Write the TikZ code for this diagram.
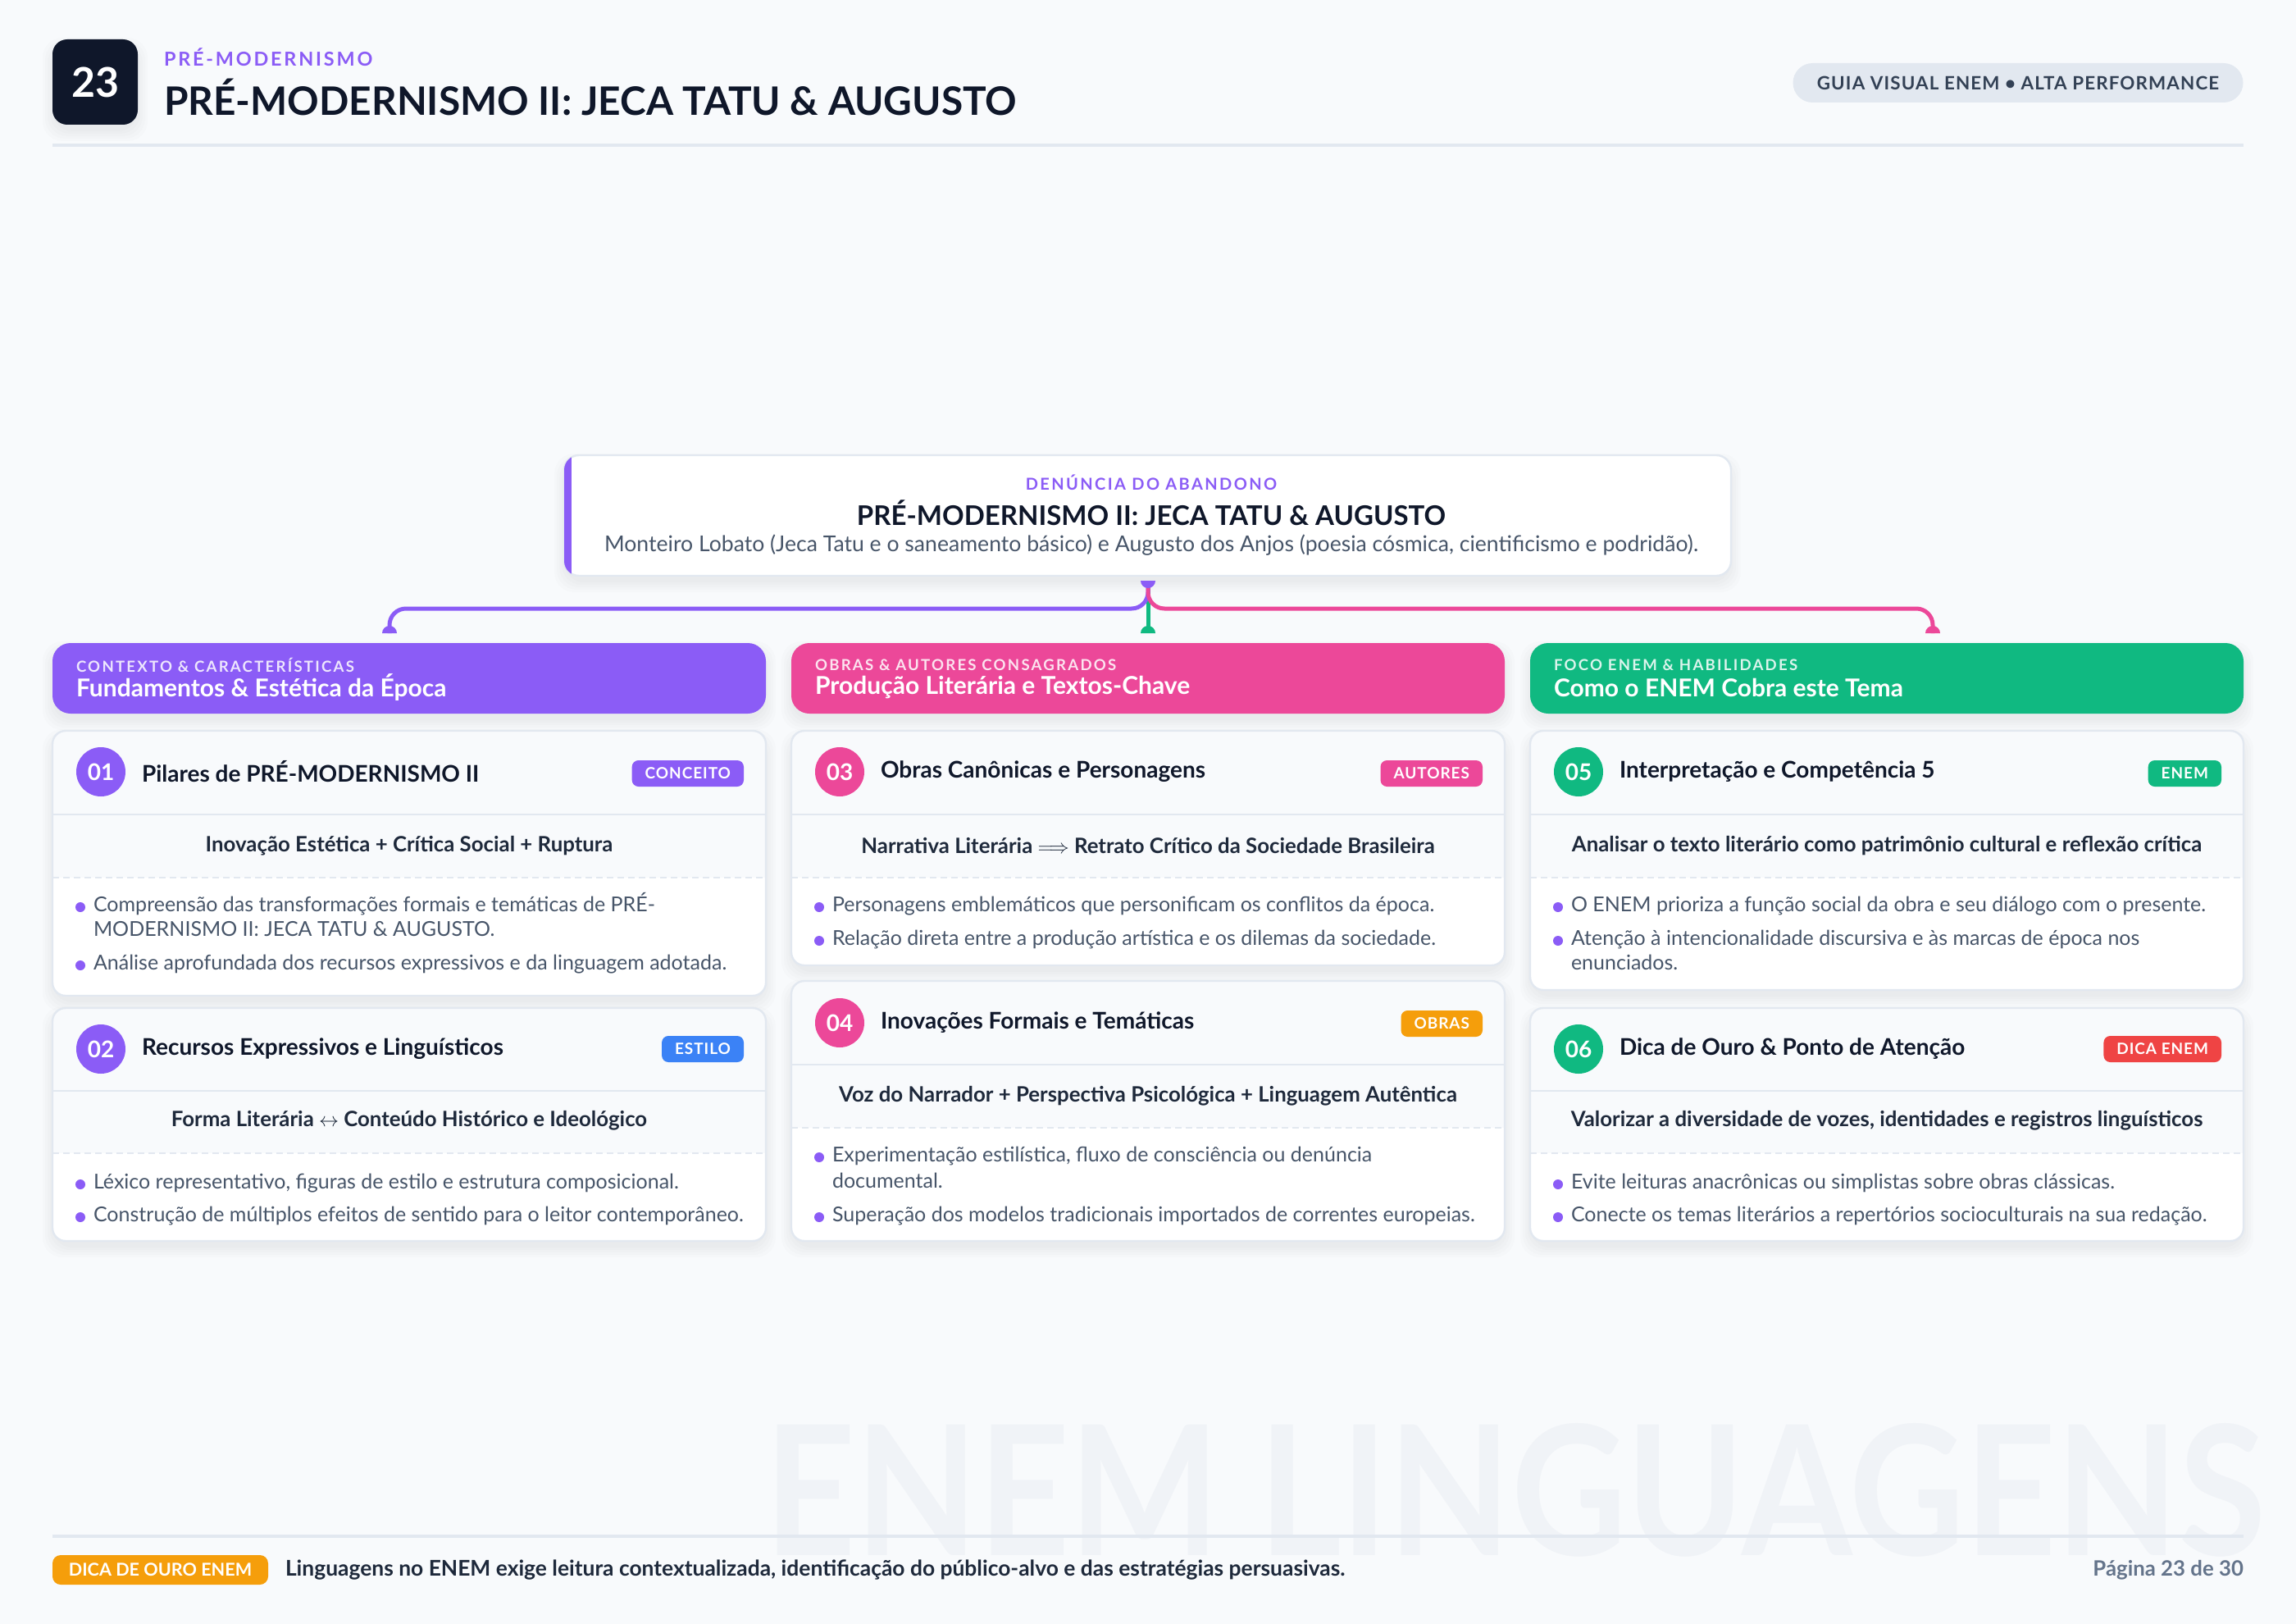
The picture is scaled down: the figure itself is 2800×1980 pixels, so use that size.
\documentclass[tikz,border=0pt]{standalone}
\usepackage{fontspec}
\setmainfont{Lato}
\newfontfamily\trk[LetterSpace=12]{Lato}
\newfontfamily\trks[LetterSpace=5]{Lato}
\usetikzlibrary{fit,calc}
\definecolor{bg}{HTML}{F8FAFC}
\definecolor{s900}{HTML}{0F172A}
\definecolor{s800}{HTML}{1E293B}
\definecolor{s700}{HTML}{334155}
\definecolor{s600}{HTML}{475569}
\definecolor{s500}{HTML}{64748B}
\definecolor{bord}{HTML}{E2E8F0}
\definecolor{wmc}{HTML}{F0F3F7}
\definecolor{cpur}{HTML}{8B5CF6}
\definecolor{cpink}{HTML}{EC4899}
\definecolor{cgreen}{HTML}{10B981}
\definecolor{cblue}{HTML}{3B82F6}
\definecolor{corange}{HTML}{F59E0B}
\definecolor{cred}{HTML}{EF4444}
\newcommand\titf{\fontsize{14}{17}\selectfont\bfseries\color{s900}}
\newcommand\formf{\fontsize{12.9}{15}\selectfont\bfseries\color{s800}}
\newcommand\bulf{\fontsize{12.5}{15}\selectfont\color{s600}}
\newcommand\numf{\fontsize{14}{16}\selectfont\bfseries\color{white}}
\newcommand\badf{\trks\fontsize{9.5}{11}\selectfont\bfseries\color{white}}
\newcommand\shad[4]{\foreach \s in {0,3,6,9,12}{\fill[black,opacity=0.012,rounded corners=12pt] (#1-\s,#2-\s+10) rectangle (#3+\s,#4+\s+8);}}
% #1 name #2 xleft #3 ytop #4 ysolid #5 ydash #6 ybottom
\newcommand\mycard[6]{%
  \shad{#2}{#3}{#2+870}{#6}
  \node[fit={(#2,#3) (#2+870,#6)}] (#1) {};
  \fill[bg, rounded corners=8pt] (#2,#3) rectangle (#2+870,#6);
  \begin{scope}
    \clip[rounded corners=8pt] (#2,#3) rectangle (#2+870,#6);
    \fill[white] (#2,#5) rectangle (#2+870,#6);
  \end{scope}
  \draw[bord, line width=1.2pt, rounded corners=8pt] (#2,#3) rectangle (#2+870,#6);
  \draw[bord, line width=1.2pt] (#2,#4) -- (#2+870,#4);
  \draw[bord, line width=1.2pt, dash pattern=on 4pt off 2.5pt] (#2,#5) -- (#2+870,#5);
}
% bullet item: #1 name, #2 text x, #3 line centre y, #4 text
\newcommand\bitem[4]{%
  \node[bdot] (#1d) at (#2-16,#3+4) {};
  \node[bul] (#1) at (#2,#3) {#4};
}
\tikzset{
  numc/.style={circle, fill=#1, minimum size=30pt},
  badge/.style={fill=#1, rounded corners=4pt, minimum height=16pt, inner xsep=8pt, anchor=east},
  ctitle/.style={anchor=west, font=\titf},
  bul/.style={anchor=west, font=\bulf, text height=9pt, text depth=0pt},
  bdot/.style={circle, fill=cpur, minimum size=6pt},
  conn/.style={line width=2.5pt, rounded corners=10pt},
  colhead/.style={fill=#1, rounded corners=11pt},
}
\begin{document}
\begin{tikzpicture}[x=0.5pt,y=-0.5pt, every node/.style={inner sep=0pt, outer sep=0pt}]
\useasboundingbox (0,0) rectangle (2800,1980);
\fill[bg] (0,0) rectangle (2800,1980);

% watermark
\node[anchor=base west, text=wmc, text depth=0pt] (wm) at (932,1896) {\scalebox{0.898}[1.02]{\fontsize{108}{110}\selectfont\bfseries ENEM LINGUAGENS}};

% header
\shad{64}{48}{168}{152}
\node[fit={(64,48) (168,152)}, fill=s900, rounded corners=9pt] (numbox) {};
\node[text=white, font=\fontsize{25}{28}\selectfont\bfseries] (numtxt) at (numbox.center) {23};
\node[anchor=west, text=cpur, font=\trk\fontsize{11.7}{13}\selectfont\bfseries] (kicker) at (200,70) {PRÉ-MODERNISMO};
\node[anchor=west, text=s900, font=\fontsize{23.9}{28}\selectfont\bfseries] (htitle) at (200,118) {PRÉ-MODERNISMO II: JECA TATU \& AUGUSTO};
\node[fill=bord, rounded corners=12pt, minimum width=274.5pt, minimum height=24pt] (pill) at (2461,101) {};
\node[text=s700, font=\trks\fontsize{11.2}{13}\selectfont\bfseries] (pilltxt) at (pill.center) {GUIA VISUAL ENEM • ALTA PERFORMANCE};
\draw[bord, line width=2pt] (64,177) -- (2736,177);

% top box
\shad{688}{555}{2111}{702}
\node[fit={(688,555) (2111,702)}, fill=white, draw=bord, line width=1.2pt, rounded corners=9pt] (top) {};
\begin{scope}
  \clip[rounded corners=9pt] (688,555) rectangle (2111,702);
  \fill[cpur] (688,555) rectangle (697,702);
\end{scope}
\node[text=cpur, font=\trk\fontsize{10}{12}\selectfont\bfseries] (toplbl) at (1404,588) {DENÚNCIA DO ABANDONO};
\node[text=s900, font=\fontsize{16.5}{20}\selectfont\bfseries] (toptitle) at (1404,625) {PRÉ-MODERNISMO II: JECA TATU \& AUGUSTO};
\node[text=s600, font=\fontsize{13.3}{15}\selectfont] (topsub) at (1404,665) {Monteiro Lobato (Jeca Tatu e o saneamento básico) e Augusto dos Anjos (poesia cósmica, cientificismo e podridão).};

% column headers
\shad{64}{784}{934}{870}
\shad{965}{784}{1835}{870}
\shad{1866}{784}{2736}{870}
\node[fit={(64,784) (934,870)}, colhead=cpur] (h1) {};
\node[fit={(965,784) (1835,870)}, colhead=cpink] (h2) {};
\node[fit={(1866,784) (2736,870)}, colhead=cgreen] (h3) {};
\foreach \n/\x/\a/\b in {h1/93/CONTEXTO \& CARACTERÍSTICAS/Fundamentos \& Estética da Época,
                        h2/994/OBRAS \& AUTORES CONSAGRADOS/Produção Literária e Textos-Chave,
                        h3/1895/FOCO ENEM \& HABILIDADES/Como o ENEM Cobra este Tema}{
  \node[anchor=west, text=white, text opacity=0.85, font=\trk\fontsize{9.3}{11}\selectfont\bfseries] (\n l) at (\x,811) {\a};
  \node[anchor=west, text=white, font=\fontsize{15}{17}\selectfont\bfseries] (\n t) at (\x,838) {\b};
}

% connectors
\coordinate (jt) at (1400,708);
\coordinate (e1) at (475,772);
\coordinate (e2) at (1400,772);
\coordinate (e3) at (2357,772);
\draw[cgreen, conn] (jt) -- (e2);
\draw[cpur, conn] (jt) |- ([yshift=15pt]e1) -- (e1);
\draw[cpink, conn] (jt) |- ([yshift=15pt]e3) -- (e3);
\fill[cpur] ([xshift=-4.5pt]jt) arc[start angle=180, end angle=360, radius=4.5pt] -- cycle;
\fill[cpur] ([xshift=-4.5pt]e1) arc[start angle=180, end angle=0, radius=4.5pt] -- cycle;
\fill[cgreen] ([xshift=-4.5pt]e2) arc[start angle=180, end angle=0, radius=4.5pt] -- cycle;
\fill[cpink] ([xshift=-4.5pt]e3) arc[start angle=180, end angle=0, radius=4.5pt] -- cycle;

% ---------- column 1 ----------
\mycard{c1}{64}{891}{993}{1070}{1214}
\node[numc=cpur] (n1) at (123,941) {\numf 01};
\node[ctitle] (t1) at (173,941) {Pilares de PRÉ-MODERNISMO II};
\node[badge=cpur] (g1) at (907,943) {\badf CONCEITO};
\node[font=\formf] (f1) at (499,1031) {Inovação Estética + Crítica Social + Ruptura};
\bitem{b1a}{114}{1102}{Compreensão das transformações formais e temáticas de PRÉ-}
\node[bul] (b1a2) at (114,1132) {MODERNISMO II: JECA TATU \& AUGUSTO.};
\bitem{b1b}{114}{1173}{Análise aprofundada dos recursos expressivos e da linguagem adotada.}

\mycard{c2}{64}{1229}{1330}{1406}{1513}
\node[numc=cpur] (n2) at (123,1279) {\numf 02};
\node[ctitle] (t2) at (173,1279) {Recursos Expressivos e Linguísticos};
\node[badge=cblue] (g2) at (907,1279) {\badf ESTILO};
\node[font=\formf] (f2) at (499,1366) {Forma Literária $\leftrightarrow$ Conteúdo Histórico e Ideológico};
\bitem{b2a}{114}{1440}{Léxico representativo, figuras de estilo e estrutura composicional.}
\bitem{b2b}{114}{1480}{Construção de múltiplos efeitos de sentido para o leitor contemporâneo.}

% ---------- column 2 ----------
\mycard{c3}{965}{891}{993}{1070}{1177}
\node[numc=cpink] (n3) at (1024,941) {\numf 03};
\node[ctitle] (t3) at (1074,941) {Obras Canônicas e Personagens};
\node[badge=cpink] (g3) at (1808,943) {\badf AUTORES};
\node[font=\formf] (f3) at (1400,1031) {Narrativa Literária $\Longrightarrow$ Retrato Crítico da Sociedade Brasileira};
\bitem{b3a}{1015}{1102}{Personagens emblemáticos que personificam os conflitos da época.}
\bitem{b3b}{1015}{1143}{Relação direta entre a produção artística e os dilemas da sociedade.}

\mycard{c4}{965}{1196}{1298}{1375}{1513}
\node[numc=cpink] (n4) at (1024,1247) {\numf 04};
\node[ctitle] (t4) at (1074,1247) {Inovações Formais e Temáticas};
\node[badge=corange] (g4) at (1808,1248) {\badf OBRAS};
\node[font=\formf] (f4) at (1400,1336) {Voz do Narrador + Perspectiva Psicológica + Linguagem Autêntica};
\bitem{b4a}{1015}{1407}{Experimentação estilística, fluxo de consciência ou denúncia}
\node[bul] (b4a2) at (1015,1439) {documental.};
\bitem{b4b}{1015}{1480}{Superação dos modelos tradicionais importados de correntes europeias.}

% ---------- column 3 ----------
\mycard{c5}{1866}{891}{993}{1070}{1207}
\node[numc=cgreen] (n5) at (1925,941) {\numf 05};
\node[ctitle] (t5) at (1975,941) {Interpretação e Competência 5};
\node[badge=cgreen] (g5) at (2709,943) {\badf ENEM};
\node[font=\formf] (f5) at (2301,1031) {Analisar o texto literário como patrimônio cultural e reflexão crítica};
\bitem{b5a}{1916}{1102}{O ENEM prioriza a função social da obra e seu diálogo com o presente.}
\bitem{b5b}{1916}{1143}{Atenção à intencionalidade discursiva e às marcas de época nos}
\node[bul] (b5b2) at (1916,1173) {enunciados.};

\mycard{c6}{1866}{1229}{1330}{1406}{1513}
\node[numc=cgreen] (n6) at (1925,1279) {\numf 06};
\node[ctitle] (t6) at (1975,1279) {Dica de Ouro \& Ponto de Atenção};
\node[badge=cred] (g6) at (2709,1279) {\badf DICA ENEM};
\node[font=\formf] (f6) at (2301,1366) {Valorizar a diversidade de vozes, identidades e registros linguísticos};
\bitem{b6a}{1916}{1440}{Evite leituras anacrônicas ou simplistas sobre obras clássicas.}
\bitem{b6b}{1916}{1480}{Conecte os temas literários a repertórios socioculturais na sua redação.}

% footer
\draw[bord, line width=2pt] (64,1873) -- (2736,1873);
\node[fit={(64,1896) (327,1932)}, fill=corange, rounded corners=5pt] (fb) {};
\node[text=white, font=\fontsize{10.8}{12}\selectfont\bfseries] (fbt) at (fb.center) {DICA DE OURO ENEM};
\node[anchor=west, text=s800, font=\fontsize{13.2}{15}\selectfont\bfseries] (ftxt) at (348,1914) {Linguagens no ENEM exige leitura contextualizada, identificação do público-alvo e das estratégias persuasivas.};
\node[anchor=east, text=s500, font=\fontsize{12.9}{15}\selectfont\bfseries] (page) at (2736,1914) {Página 23 de 30};
\end{tikzpicture}
\end{document}
